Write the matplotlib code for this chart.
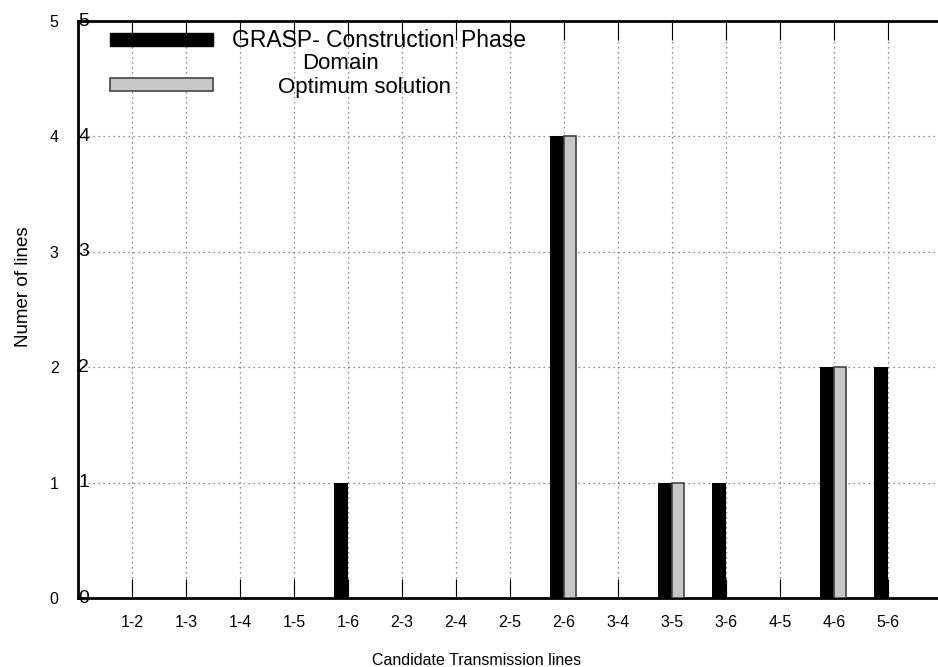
import matplotlib.pyplot as plt
from matplotlib.patches import Rectangle

plt.rcParams['font.family'] = ['Liberation Sans', 'DejaVu Sans']

lines = ['1-2', '1-3', '1-4', '1-5', '1-6', '2-3', '2-4', '2-5',
         '2-6', '3-4', '3-5', '3-6', '4-5', '4-6', '5-6']
grasp = [0, 0, 0, 0, 1, 0, 0, 0, 4, 0, 1, 1, 0, 2, 2]
optimum = [0, 0, 0, 0, 0, 0, 0, 0, 4, 0, 1, 0, 0, 2, 0]
yticks = [0, 1, 2, 3, 4, 5]

pos = list(range(1, len(lines) + 1))

fig = plt.figure(figsize=(9.38, 6.67), dpi=100)
ax = fig.add_axes([0.0832, 0.1034, 0.9168, 0.8651])

# black bars sit left of the tick, grey ones right of it
for x, h in zip(pos, grasp):
    if h > 0:
        ax.bar(x, h, width=-0.26, align='edge', color='black', zorder=3)
for x, h in zip(pos, optimum):
    if h > 0:
        ax.bar(x, h, width=0.23, align='edge', color='#c8c8c8',
               edgecolor='#444444', linewidth=1.2, zorder=3)

ax.set_xlim(0, 15.93)
ax.set_ylim(0, 5)
ax.set_xticks(pos)
ax.set_xticklabels(lines, fontsize=11.5)
ax.set_yticks(yticks)
ax.set_yticklabels([str(v) for v in yticks], fontsize=11.5)
ax.tick_params(axis='x', direction='in', length=14, top=True, pad=12)
ax.tick_params(axis='y', direction='in', length=0, pad=14)
ax.grid(True, linestyle=(0, (1, 3)), color='#666666', linewidth=0.9)

ax.spines['right'].set_visible(False)
for s in ['left', 'bottom', 'top']:
    ax.spines[s].set_linewidth(2)

# overlaid second set of y labels on the spine
for v in yticks:
    ax.text(0.0, v, str(v), transform=ax.get_yaxis_transform(),
            fontsize=14, ha='left', va='center', color='black')

ax.set_xlabel('Candidate Transmission lines', fontsize=11.5)
ax.xaxis.set_label_coords(0.463, -0.095)
ax.set_ylabel('Numer of lines', fontsize=13.5)
ax.yaxis.set_label_coords(-0.054, 0.54)

# legend drawn by hand
ax.add_patch(Rectangle((0.037, 0.957), 0.12, 0.022, transform=ax.transAxes,
                       facecolor='black', edgecolor='black', clip_on=False, zorder=5))
ax.add_patch(Rectangle((0.037, 0.879), 0.12, 0.022, transform=ax.transAxes,
                       facecolor='#c8c8c8', edgecolor='#444444', linewidth=1.2,
                       clip_on=False, zorder=5))
ax.text(0.179, 0.967, 'GRASP- Construction Phase', transform=ax.transAxes,
        fontsize=16.5, ha='left', va='center')
ax.text(0.305, 0.927, 'Domain', transform=ax.transAxes,
        fontsize=16, ha='center', va='center')
ax.text(0.233, 0.884, 'Optimum solution', transform=ax.transAxes,
        fontsize=16, ha='left', va='center')

fig.savefig('out.png', dpi=100)
